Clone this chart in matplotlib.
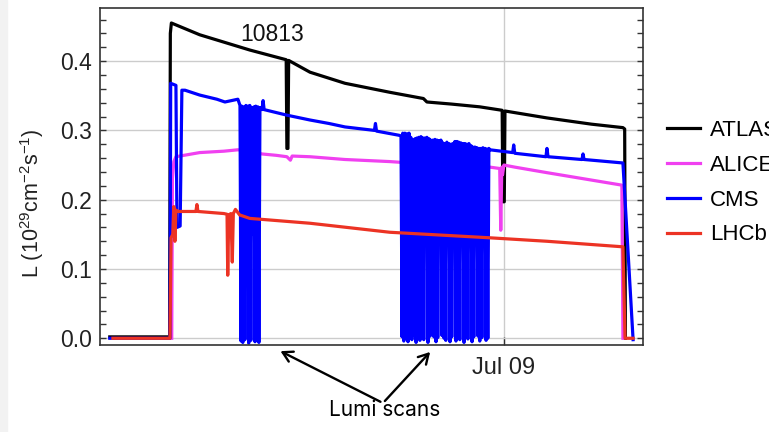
import matplotlib
matplotlib.use("Agg")
import matplotlib.pyplot as plt
import numpy as np
from matplotlib.patches import Rectangle

plt.rcParams['font.family'] = ['Liberation Sans', 'DejaVu Sans']
plt.rcParams['mathtext.fontset'] = 'custom'
plt.rcParams['mathtext.rm'] = 'Liberation Sans'
plt.rcParams['mathtext.default'] = 'regular'

# time in hours since Jul 08 00:00, luminosity in 1e29 cm-2 s-1
atlas_t = [12.74, 14.45, 14.47, 14.50, 15.31, 16.74, 17.78, 17.80, 17.83, 17.85, 18.46, 19.46,
           20.74, 21.70, 21.80, 22.50, 23.31, 23.95, 23.97, 24.01, 24.03, 25.23, 26.50, 27.40,
           27.45, 27.47]
atlas_L = [0.002, 0.002, 0.44, 0.455, 0.438, 0.416, 0.402, 0.274, 0.274, 0.401, 0.384, 0.368,
           0.355, 0.346, 0.341, 0.338, 0.334, 0.329, 0.197, 0.197, 0.328, 0.318, 0.309, 0.304,
           0.302, 0.0]

alice_t = [14.51, 14.53, 14.57, 14.63, 15.31, 16.00, 16.40, 16.75, 17.09, 17.50, 17.80, 17.90,
           17.95, 18.46, 19.46, 20.74, 21.03, 23.60, 23.88, 23.91, 23.94, 23.96, 24.00, 24.31,
           25.23, 27.37, 27.40]
alice_L = [0.0, 0.23, 0.255, 0.262, 0.268, 0.270, 0.272, 0.270, 0.266, 0.264, 0.262, 0.257,
           0.263, 0.262, 0.258, 0.255, 0.254, 0.247, 0.245, 0.156, 0.247, 0.236, 0.250, 0.247,
           0.239, 0.221, 0.0]

cms_pre_t = [12.74, 14.46, 14.48, 14.63, 14.66, 14.75, 14.80, 14.89, 15.31, 15.80, 16.03, 16.40]
cms_pre_L = [0.0, 0.0, 0.368, 0.365, 0.16, 0.162, 0.358, 0.358, 0.351, 0.345, 0.341, 0.345]

scan1_top_t = [16.46, 16.51, 16.57, 16.63, 16.69, 16.74, 16.80, 16.86, 16.91, 16.97, 17.03]
scan1_top_L = [0.336, 0.335, 0.334, 0.336, 0.335, 0.336, 0.333, 0.334, 0.335, 0.334, 0.333]
scan1_bot_t = [16.49, 16.54, 16.60, 16.66, 16.71, 16.77, 16.83, 16.89, 16.94, 17.00]
scan1_bot_L = [-0.004, -0.006, -0.002, 0.12, -0.007, -0.003, 0.15, -0.005, -0.002, -0.006]

cms_mid_t = [17.09, 17.12, 17.15, 17.80, 18.46, 19.00, 19.46, 20.30, 20.33, 20.36, 21.00]
cms_mid_L = [0.330, 0.343, 0.330, 0.322, 0.315, 0.310, 0.305, 0.300, 0.310, 0.299, 0.293]

scan2_top_t = [21.06, 21.11, 21.17, 21.23, 21.29, 21.34, 21.40, 21.46, 21.51, 21.57,
               21.63, 21.69, 21.74, 21.80, 21.86, 21.91, 21.97, 22.03, 22.09, 22.14,
               22.20, 22.26, 22.31, 22.37, 22.43, 22.49, 22.54, 22.60, 22.66, 22.71,
               22.77, 22.83, 22.89, 22.94, 23.00, 23.06, 23.11, 23.17, 23.23, 23.29,
               23.34, 23.40, 23.46, 23.51, 23.57]
scan2_top_L = [0.292, 0.296, 0.296, 0.295, 0.296, 0.290, 0.286, 0.288, 0.289, 0.290,
               0.291, 0.289, 0.289, 0.290, 0.288, 0.286, 0.286, 0.287, 0.286, 0.285,
               0.286, 0.282, 0.281, 0.283, 0.281, 0.280, 0.281, 0.284, 0.284, 0.283,
               0.282, 0.281, 0.281, 0.280, 0.281, 0.278, 0.276, 0.276, 0.275, 0.274,
               0.274, 0.275, 0.274, 0.273, 0.274]
scan2_bot_t = [21.09, 21.14, 21.20, 21.26, 21.31, 21.37, 21.43, 21.49, 21.54, 21.60,
               21.66, 21.71, 21.77, 21.83, 21.89, 21.94, 22.00, 22.06, 22.11, 22.17,
               22.23, 22.29, 22.34, 22.40, 22.46, 22.51, 22.57, 22.63, 22.69, 22.74,
               22.80, 22.86, 22.91, 22.97, 23.03, 23.09, 23.14, 23.20, 23.26, 23.31,
               23.37, 23.43, 23.49, 23.54]
scan2_bot_L = [0.002, -0.004, 0.0, -0.005, 0.17, -0.002, 0.004, -0.006, 0.15, -0.003,
               0.005, -0.002, 0.18, -0.006, 0.003, 0.16, 0.002, -0.005, 0.001, 0.19,
               0.004, 0.0, -0.003, 0.16, -0.005, 0.002, 0.17, -0.004, 0.003, -0.002,
               0.15, -0.006, 0.002, -0.001, 0.18, -0.005, 0.002, 0.16, 0.003, -0.004,
               0.001, 0.17, -0.003, 0.0]

cms_post_t = [23.60, 24.25, 24.28, 24.31, 25.20, 25.23, 25.26, 26.23, 26.26, 26.29, 27.40, 27.69]
cms_post_L = [0.272, 0.268, 0.279, 0.267, 0.262, 0.274, 0.262, 0.258, 0.266, 0.258, 0.253, -0.002]

lhcb_t = [12.83, 14.46, 14.49, 14.54, 14.57, 14.60, 14.63, 14.70, 15.20, 15.23, 15.26, 16.00,
          16.09, 16.11, 16.14, 16.20, 16.24, 16.27, 16.33, 16.45, 16.74, 18.46, 20.74, 23.60,
          25.23, 27.40, 27.46, 27.69]
lhcb_L = [0.0, 0.0, 0.145, 0.150, 0.190, 0.140, 0.185, 0.183, 0.183, 0.193, 0.183, 0.180,
          0.179, 0.091, 0.178, 0.180, 0.110, 0.180, 0.186, 0.178, 0.173, 0.166, 0.153, 0.145,
          0.140, 0.132, 0.0, 0.0]

fill_label = "10813"
jul09 = 24.0


def interleave(top_t, top_L, bot_t, bot_L):
    t = np.empty(len(top_t) + len(bot_t))
    L = np.empty_like(t)
    t[0::2], t[1::2] = top_t, bot_t
    L[0::2], L[1::2] = top_L, bot_L
    return t, L


s1, s1L = interleave(scan1_top_t, scan1_top_L, scan1_bot_t, scan1_bot_L)
s2, s2L = interleave(scan2_top_t, scan2_top_L, scan2_bot_t, scan2_bot_L)
cms_t = np.concatenate([cms_pre_t, s1, cms_mid_t, s2, cms_post_t])
cms_L = np.concatenate([cms_pre_L, s1L, cms_mid_L, s2L, cms_post_L])

fig = plt.figure(figsize=(7.69, 4.32), dpi=100)
fig.patches.append(Rectangle((0, 0), 7 / 769, 1, transform=fig.transFigure,
                             color='#f2f2f2', zorder=0))
ax = fig.add_axes([0.130, 0.2014, 0.706, 0.780])

lw = 2.3
ax.plot(atlas_t, atlas_L, color='black', lw=lw, label='ATLAS')
ax.plot(alice_t, alice_L, color='#f040f0', lw=lw, label='ALICE')
ax.plot(cms_t, cms_L, color='#0000ff', lw=lw, label='CMS')
ax.plot(lhcb_t, lhcb_L, color='#ec3324', lw=lw, label='LHCb')

ax.set_xlim(12.46, 27.97)
ax.set_ylim(-0.0097, 0.4766)
ax.set_yticks([0.0, 0.1, 0.2, 0.3, 0.4])
ax.set_yticks(np.arange(0, 0.47, 0.02), minor=True)
ax.set_xticks([jul09])
ax.set_xticklabels(['Jul 09'])
ax.grid(True, color='#cccccc', lw=1)
ax.set_axisbelow(True)
ax.tick_params(axis='y', which='both', direction='in', left=True, right=True,
               length=4.5, width=1, labelsize=16.5, pad=6, colors='#333333', labelcolor='#222222')
ax.tick_params(axis='x', direction='in', length=6, width=1, labelsize=17, pad=9,
               colors='#333333', labelcolor='#222222')
for s in ax.spines.values():
    s.set_color('#333333')
    s.set_linewidth(1.2)

ax.set_ylabel(r'L (10$^{29}$cm$^{-2}$s$^{-1}$)', fontsize=15.5, color='#222222')
ax.yaxis.set_label_coords(-0.1, 0.42)

ax.text(17.37, 0.438, fill_label, fontsize=16.5, ha='center', va='center', color='#111111')

fig.legend(loc='upper left', bbox_to_anchor=(0.867, 0.722), frameon=False, fontsize=16,
           handlelength=1.5, handletextpad=0.45, labelspacing=0.62, borderpad=0,
           borderaxespad=0)

arrow = dict(arrowstyle='->,head_length=0.7,head_width=0.4', lw=1.7, color='black')
ax.annotate('', xy=(0.3615, 0.190), xytext=(0.498, 0.067), xycoords='figure fraction',
            textcoords='figure fraction', arrowprops=arrow, annotation_clip=False)
ax.annotate('', xy=(0.5618, 0.190), xytext=(0.498, 0.067), xycoords='figure fraction',
            textcoords='figure fraction', arrowprops=arrow, annotation_clip=False)
fig.text(0.5007, 0.051, 'Lumi scans', fontsize=15, ha='center', va='center',
         family=['Inter', 'DejaVu Sans'])

fig.savefig('out.png', dpi=100)
